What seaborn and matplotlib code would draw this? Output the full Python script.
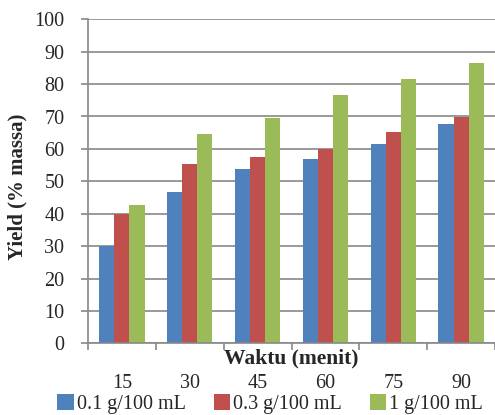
import matplotlib
matplotlib.use("Agg")
import matplotlib.pyplot as plt
import seaborn as sns
import pandas as pd

categories = ["15", "30", "45", "60", "75", "90"]
series_names = ["0.1 g/100 mL", "0.3 g/100 mL", "1 g/100 mL"]
vals_01 = [30.0, 46.7, 53.9, 57.0, 61.6, 67.6]
vals_03 = [40.0, 55.2, 57.4, 60.0, 65.3, 69.8]
vals_1 = [42.6, 64.6, 69.4, 76.7, 81.6, 86.5]
colors = ["#4F81BD", "#C0504D", "#9BBB59"]
yticks = [0, 10, 20, 30, 40, 50, 60, 70, 80, 90, 100]

rows = []
for name, vals in zip(series_names, [vals_01, vals_03, vals_1]):
    for c, v in zip(categories, vals):
        rows.append({"Waktu": c, "Yield": v, "Seri": name})
df = pd.DataFrame(rows)

sns.set_style("white")
plt.rcParams["font.family"] = ["Liberation Serif", "DejaVu Serif"]

fig = plt.figure(figsize=(4.95, 4.15), dpi=100)
ax = fig.add_axes([88 / 495, 1 - 343.3 / 415, 1 - 88 / 495, (343.3 - 19.3) / 415])

sns.barplot(data=df, x="Waktu", y="Yield", hue="Seri", order=categories,
            hue_order=series_names, palette=colors, saturation=1,
            width=2 / 3, edgecolor="none", linewidth=0, ax=ax, legend=True)

ax.set_xlim(-0.5, 5.4)
ax.set_ylim(0, 100)
ax.set_yticks(yticks)
ax.set_yticklabels([str(t) for t in yticks], fontsize=14.5)
ax.yaxis.grid(True, color="#878787", linewidth=1.2)
ax.set_axisbelow(True)

for s in ["top", "right"]:
    ax.spines[s].set_visible(False)
for s in ["left", "bottom"]:
    ax.spines[s].set_color("#878787")
    ax.spines[s].set_linewidth(1.2)

ax.tick_params(axis="y", which="major", length=5, width=1.2, color="#878787",
               pad=12, direction="out", left=True)
ax.set_xticks(range(len(categories)))
ax.set_xticklabels(categories, fontsize=14.5)
ax.tick_params(axis="x", which="major", length=0, pad=22)
ax.set_xticks([i - 0.5 for i in range(len(categories) + 1)], minor=True)
ax.tick_params(axis="x", which="minor", length=5, width=1.2, color="#878787",
               direction="out", bottom=True)

ax.set_xlabel("Waktu (menit)", fontsize=15.5, fontweight="bold")
ax.xaxis.set_label_coords(0.5, -0.048)
ax.xaxis.label.set_verticalalignment("center")
ax.set_ylabel("Yield (% massa)", fontsize=15, fontweight="bold")
ax.yaxis.set_label_coords(-0.173, 0.484)
ax.yaxis.label.set_verticalalignment("center")

handles, labels = ax.get_legend_handles_labels()
ax.legend_.remove()
fig.legend(handles, labels, loc="center", bbox_to_anchor=(270 / 495, 1 - 404 / 415),
           ncol=3, frameon=False, fontsize=14.5, handlelength=0.8, handleheight=0.8,
           handletextpad=0.15, columnspacing=1.4, borderaxespad=0)

fig.savefig("out.png", dpi=100)
